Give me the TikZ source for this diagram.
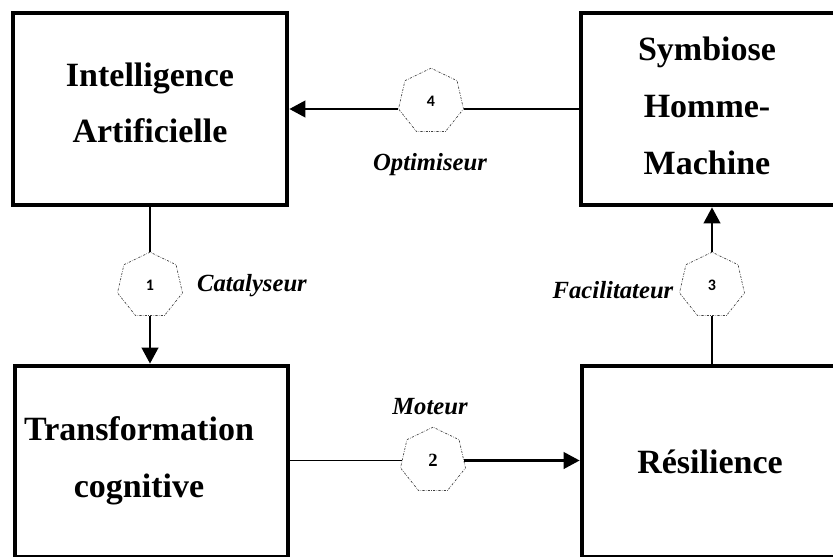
\documentclass[tikz,border=0pt]{standalone}
\usepackage{fontspec}
\setmainfont{Liberation Serif}
\newfontfamily\numfont{Carlito}
\usetikzlibrary{shapes.geometric,arrows.meta}
\begin{document}
\begin{tikzpicture}[x=0.75pt,y=-0.75pt,
  box/.style={draw,line width=3.6pt,inner sep=0pt},
  boxtext/.style={align=center,font=\fontsize{25.5}{42.5}\selectfont\bfseries},
  hept/.style={regular polygon,regular polygon sides=7,minimum size=50pt,inner sep=0pt,draw=black!75,line width=0.5pt,dash pattern=on 1.6pt off 1pt on 0.4pt off 1pt},
  numS/.style={font=\numfont\bfseries\fontsize{12}{14}\selectfont},
  numR/.style={font=\bfseries\fontsize{14}{16}\selectfont},
  lab/.style={font=\bfseries\itshape\fontsize{18.5}{20}\selectfont},
  thinline/.style={line width=0.8pt},
  arr/.style={line width=1.6pt,-{Triangle[width=12.5pt,length=12pt]}}
]
\useasboundingbox (0,0) rectangle (833,557);
\clip (0,0) rectangle (833,557);
% boxes
\node[box,minimum width=205.5pt,minimum height=144pt] (ia) at (150,109) {};
\node[box,minimum width=193.5pt,minimum height=144pt] (sy) at (710,109) {};
\node[box,minimum width=204.75pt,minimum height=143.25pt] (tc) at (151.5,461.5) {};
\node[box,minimum width=192pt,minimum height=143.25pt] (rs) at (710,461.5) {};
% box texts
\node[boxtext] (iat) at (150,103) {Intelligence\\Artificielle};
\node[boxtext] (syt) at (707,106) {Symbiose\\Homme-\\Machine};
\node[boxtext] (tct) at (139,461) {Transformation\\cognitive};
\node[boxtext] (rst) at (710,462) {Résilience};
% heptagons
\node[hept,numS] (h1) at (150,285.5) {1};
\node[hept,numR] (h2) at (433,460.5) {2};
\node[hept,numS] (h3) at (712,285.5) {3};
\node[hept,numS] (h4) at (431,101.5) {4};
% connectors
\draw[thinline] (h1.corner 1 |- ia.south) -- (h1.corner 1);
\draw[arr] (h1.south) -- (h1.south |- tc.north);
\draw[thinline] (tc.east |- h2.west) -- (h2.west);
\draw[arr] (h2.east) -- (h2.east -| rs.west);
\draw[thinline] (h3.south |- rs.north) -- (h3.south);
\draw[arr] (h3.corner 1) -- (h3.corner 1 |- sy.south);
\draw[thinline] (sy.west |- h4.corner 6) -- (h4.corner 6);
\draw[arr] (h4.corner 3) -- (h4.corner 3 -| ia.east);
% labels
\node[lab] (l1) at (252,286) {Catalyseur};
\node[lab] (l4) at (430,165) {Optimiseur};
\node[lab] (l2) at (430,407) {Moteur};
\node[lab] (l3) at (613,290) {Facilitateur};
\end{tikzpicture}
\end{document}
